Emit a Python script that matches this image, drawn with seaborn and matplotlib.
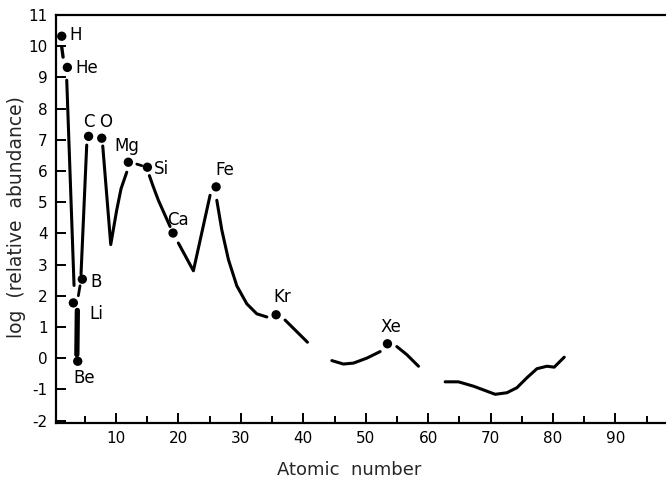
import matplotlib
matplotlib.use('Agg')
import matplotlib.pyplot as plt
import numpy as np
import pandas as pd
import seaborn as sns

sns.set_theme(style='ticks')
plt.rcParams['font.family'] = ['DejaVu Sans']
plt.rcParams['axes.unicode_minus'] = False

# Marked elements (atomic number, log abundance)
elements = ['H', 'He', 'Li', 'Be', 'B', 'C', 'O', 'Mg', 'Si', 'Ca', 'Fe', 'Kr', 'Xe']
elem_z = [1.3, 2.2, 3.16, 3.86, 4.6, 5.6, 7.71, 11.97, 15.02, 19.13, 26.03, 35.64, 53.48]
elem_log = [10.32, 9.32, 1.77, -0.10, 2.53, 7.11, 7.05, 6.28, 6.12, 4.01, 5.49, 1.39, 0.46]

# label offsets in pixels (dx, dy) from each dot
label_dx = [14, 19, 23, 6, 14, 0, 4, -2, 14, 5, 9, 6, 3]
label_dy = [1, -1, -11, -17, -3, 14, 16, 16, -2, 13, 17, 18, 17]

# hand drawn curve pieces
h_he_z, h_he_log = [1.30, 1.51], [9.97, 9.65]
he_li_z, he_li_log = [2.10, 3.27], [8.91, 2.33]
li_be_z, li_be_log = [3.80, 3.72], [1.53, 0.11]
li_b_z, li_b_log = [3.96, 4.23], [2.00, 2.32]
b_c_z, b_c_log = [4.39, 5.30], [2.70, 6.83]
o_mg_z = [7.87, 9.15, 10.11, 10.80, 11.71]
o_mg_log = [6.80, 3.64, 4.75, 5.43, 5.96]
mg_si_z, mg_si_log = [13.32, 14.12], [6.22, 6.17]
si_ca_z = [15.34, 15.90, 16.78, 18.65]
si_ca_log = [5.85, 5.53, 5.06, 4.22]
ca_fe_z, ca_fe_log = [19.98, 22.39, 25.06], [3.69, 2.80, 5.22]
fe_kr_z = [26.14, 26.94, 28.00, 29.34, 30.95, 32.55, 34.15]
fe_kr_log = [5.06, 4.11, 3.16, 2.32, 1.74, 1.42, 1.32]
kr_tail_z, kr_tail_log = [37.08, 40.66], [1.22, 0.51]
xe_left_z = [44.57, 46.43, 48.03, 50.18, 52.31]
xe_left_log = [-0.08, -0.19, -0.16, 0.00, 0.21]
xe_right_z, xe_right_log = [54.98, 56.59, 58.45], [0.37, 0.11, -0.26]
heavy_z = [62.72, 64.85, 67.26, 70.74, 72.61, 74.21, 75.82, 77.42, 79.02, 80.19, 81.80]
heavy_log = [-0.76, -0.76, -0.90, -1.16, -1.11, -0.95, -0.63, -0.34, -0.26, -0.29, 0.03]

pieces = [
    (h_he_z, h_he_log, 2.4), (he_li_z, he_li_log, 2.2), (li_be_z, li_be_log, 3.8),
    (li_b_z, li_b_log, 2.0), (b_c_z, b_c_log, 2.2), (o_mg_z, o_mg_log, 2.2),
    (mg_si_z, mg_si_log, 2.0), (si_ca_z, si_ca_log, 2.2), (ca_fe_z, ca_fe_log, 2.2),
    (fe_kr_z, fe_kr_log, 2.2), (kr_tail_z, kr_tail_log, 2.2), (xe_left_z, xe_left_log, 2.2),
    (xe_right_z, xe_right_log, 2.2), (heavy_z, heavy_log, 2.2),
]

fig = plt.figure(figsize=(6.66, 4.78), dpi=100)
ax = fig.add_axes([56 / 666, 55 / 478, 610 / 666, 408 / 478])

for zs, logs, lw in pieces:
    sns.lineplot(x=zs, y=logs, sort=False, estimator=None, color='black',
                 lw=lw, solid_capstyle='round', ax=ax)

sns.scatterplot(x=elem_z, y=elem_log, color='black', s=45, edgecolor='none',
                zorder=3, ax=ax)

for name, z, v, dx, dy in zip(elements, elem_z, elem_log, label_dx, label_dy):
    ax.annotate(name, (z, v), xytext=(dx, dy), textcoords='offset pixels',
                ha='center', va='center', fontsize=12, color='black')

ax.set_xlim(0.38, 98.1)
ax.set_ylim(-2.08, 11.0)
ax.set_xticks(range(10, 100, 10))
ax.set_xticks(range(5, 100, 10), minor=True)
ax.set_yticks(range(-2, 12))
ax.tick_params(axis='both', which='major', direction='in', length=7, width=1.4,
               labelsize=11, pad=6, color='black', labelcolor='black')
ax.tick_params(axis='x', which='minor', direction='in', length=5, width=1.4, color='black')

for side in ['left', 'bottom', 'top']:
    ax.spines[side].set_linewidth(1.6)
    ax.spines[side].set_color('black')
ax.spines['right'].set_visible(False)

ax.set_xlabel('Atomic  number', fontsize=13)
ax.set_ylabel('log  (relative  abundance)', fontsize=13.5)
ax.xaxis.set_label_coords(0.48, -0.092)
ax.yaxis.set_label_coords(-0.05, 0.505)

fig.savefig('out.png', dpi=100)
